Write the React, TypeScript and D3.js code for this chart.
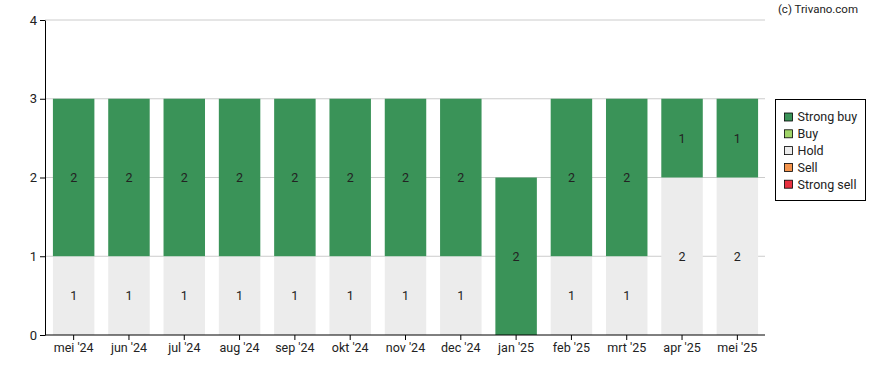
import { useEffect, useRef } from "react";
import * as d3 from "d3";

const months = ["mei '24", "jun '24", "jul '24", "aug '24", "sep '24", "okt '24", "nov '24", "dec '24", "jan '25", "feb '25", "mrt '25", "apr '25", "mei '25"];
const strongSell = [0, 0, 0, 0, 0, 0, 0, 0, 0, 0, 0, 0, 0];
const sell = [0, 0, 0, 0, 0, 0, 0, 0, 0, 0, 0, 0, 0];
const hold = [1, 1, 1, 1, 1, 1, 1, 1, 0, 1, 1, 2, 2];
const buy = [0, 0, 0, 0, 0, 0, 0, 0, 0, 0, 0, 0, 0];
const strongBuy = [2, 2, 2, 2, 2, 2, 2, 2, 2, 2, 2, 1, 1];

const seriesNames = ["Strong sell", "Sell", "Hold", "Buy", "Strong buy"];
const seriesColors = ["#e8303f", "#f4944c", "#ececec", "#a0d468", "#3a9358"];
const yTicks = [0, 1, 2, 3, 4];

export default function App() {
  const ref = useRef<SVGSVGElement | null>(null);

  useEffect(() => {
    const width = 888;
    const height = 370;
    const margin = { top: 20, right: 123, bottom: 35, left: 45 };

    const svg = d3.select(ref.current);
    svg.selectAll("*").remove();
    svg.style("font-family", "Roboto, sans-serif");

    const x = d3
      .scaleBand<string>()
      .domain(months)
      .range([margin.left + 1, width - margin.right])
      .paddingInner(0.25)
      .paddingOuter(0.125);

    const y = d3
      .scaleLinear()
      .domain([0, 4])
      .range([height - margin.bottom, margin.top]);

    // grid
    svg
      .append("g")
      .selectAll("line")
      .data(yTicks.slice(1))
      .join("line")
      .attr("x1", margin.left)
      .attr("x2", width - margin.right)
      .attr("y1", (d) => y(d))
      .attr("y2", (d) => y(d))
      .attr("stroke", "#cccccc");

    const rows = months.map((m, i) => ({
      month: m,
      "Strong sell": strongSell[i],
      Sell: sell[i],
      Hold: hold[i],
      Buy: buy[i],
      "Strong buy": strongBuy[i],
    }));

    const stacked = d3.stack<any>().keys(seriesNames)(rows);

    stacked.forEach((layer, li) => {
      const g = svg.append("g");
      layer.forEach((seg) => {
        const v = seg[1] - seg[0];
        if (v <= 0) return;
        const month = seg.data.month as string;
        g.append("rect")
          .attr("x", x(month)!)
          .attr("width", x.bandwidth())
          .attr("y", y(seg[1]))
          .attr("height", y(seg[0]) - y(seg[1]))
          .attr("fill", seriesColors[li]);
        g.append("text")
          .attr("x", x(month)! + x.bandwidth() / 2)
          .attr("y", (y(seg[0]) + y(seg[1])) / 2)
          .attr("dy", "0.35em")
          .attr("text-anchor", "middle")
          .attr("font-size", 12.5)
          .attr("fill", "#222")
          .text(v);
      });
    });

    // axes
    const xAxis = svg
      .append("g")
      .attr("transform", `translate(0,${height - margin.bottom})`)
      .call(d3.axisBottom(x).tickSize(5).tickSizeOuter(0));
    xAxis.select(".domain").attr("stroke", "#000").attr("d", `M${margin.left},0H${width - margin.right}`);
    xAxis.selectAll("text").attr("font-size", 12.5).attr("fill", "#222").attr("font-family", "Roboto, sans-serif");

    const yAxis = svg
      .append("g")
      .attr("transform", `translate(${margin.left},0)`)
      .call(d3.axisLeft(y).tickValues(yTicks).tickFormat(d3.format("d")).tickSize(5).tickSizeOuter(0));
    yAxis.selectAll("text").attr("font-size", 13).attr("fill", "#222").attr("font-family", "Roboto, sans-serif");

    // copyright
    svg
      .append("text")
      .attr("x", 858)
      .attr("y", 13)
      .attr("text-anchor", "end")
      .attr("font-size", 11.5)
      .attr("fill", "#222")
      .text("(c) Trivano.com");

    // legend
    const lg = svg.append("g").attr("transform", "translate(775.5,99.5)");
    lg.append("rect")
      .attr("width", 90)
      .attr("height", 101)
      .attr("fill", "#fff")
      .attr("stroke", "#000");
    const legendOrder = [...seriesNames].reverse();
    const legendColors = [...seriesColors].reverse();
    legendOrder.forEach((name, i) => {
      const row = lg.append("g").attr("transform", `translate(9,${17.5 + i * 16.8})`);
      row
        .append("rect")
        .attr("x", 0)
        .attr("y", -4)
        .attr("width", 8)
        .attr("height", 8)
        .attr("fill", legendColors[i])
        .attr("stroke", "#000")
        .attr("stroke-width", 0.8);
      row
        .append("text")
        .attr("x", 13)
        .attr("dy", "0.35em")
        .attr("font-size", 12.5)
        .attr("fill", "#222")
        .text(name);
    });
  }, []);

  return (
    <svg
      ref={ref}
      width={888}
      height={370}
      style={{ display: "block", position: "absolute", left: 0, top: 0 }}
    />
  );
}
